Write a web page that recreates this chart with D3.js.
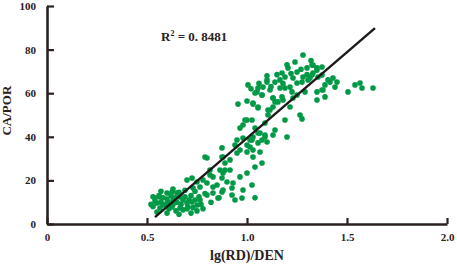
<!DOCTYPE html>
<html>
<head>
<meta charset="utf-8">
<script src="https://cdn.jsdelivr.net/npm/d3@7"></script>
<style>
  body { margin: 0; background: #fff; }
  svg { display: block; }
  .eixo text { font-family: "Liberation Serif", "Times New Roman", serif; font-weight: bold; font-size: 11px; fill: #2a2220; }
  .eixo path, .eixo line { stroke: #2a2220; }
  .titulo-eixo { font-family: "Liberation Serif", "Times New Roman", serif; font-weight: bold; fill: #2a2220; text-anchor: middle; }
</style>
</head>
<body>
<svg id="grafico"></svg>
<script>
// valores: lg(RD)/DEN (x) e CA/POR (y)
const pontosX = [
  0.54, 0.565, 0.6, 0.625, 0.65, 0.665, 0.55, 0.58, 0.605, 0.63, 0.68, 0.7, 0.725, 0.75, 0.705, 0.665, 0.625, 0.565,
  0.53, 0.54, 0.56, 0.57, 0.58, 0.59, 0.6, 0.61, 0.62, 0.63, 0.64, 0.645, 0.65, 0.66, 0.67, 0.68, 0.69, 0.7, 0.71,
  0.72, 0.73, 0.74, 0.75, 0.76, 0.77, 0.78, 0.55, 0.6, 0.66, 0.72, 0.57, 0.63, 0.69, 0.74, 0.79, 0.82, 0.86, 0.94,
  1.04, 0.52, 0.53,
  0.7, 0.725, 0.75, 0.765, 0.73, 0.78, 0.8, 0.815, 0.83, 0.85, 0.875, 0.875, 0.88, 0.89, 0.915, 0.89, 0.875, 0.9,
  0.925, 0.83, 0.8, 0.855, 0.765,
  0.79, 0.875, 0.915, 0.95, 0.965, 1.0, 1.015, 1.03, 1.075, 1.04, 1.0, 0.965, 0.865, 0.88, 0.815, 0.8, 0.83, 0.88,
  0.925, 0.975, 1.025, 0.98, 0.93,
  0.955, 1.0, 1.03, 1.055, 1.0, 0.98, 0.965, 1.05, 1.075, 1.13, 1.115, 1.105, 1.09, 1.055, 1.03, 1.015, 1.075, 0.95,
  0.94, 1.0, 1.09, 1.14,
  1.28, 1.24, 1.205, 1.25, 1.3, 1.325, 1.35, 1.375, 1.325, 1.28, 1.23, 1.19, 1.175, 1.165, 1.14, 1.1, 1.08, 1.055,
  1.04, 1.075, 1.115, 1.165, 1.19, 1.215, 1.25, 1.275, 1.305, 1.175, 1.13, 1.225, 1.25, 1.29, 1.35, 1.375, 1.35,
  1.39, 1.405, 1.23, 1.14,
  1.33, 1.35, 1.33, 1.355, 1.375, 1.315, 1.43, 1.45, 1.415, 1.44, 1.39, 1.38, 1.505, 1.54, 1.565, 1.575, 1.63,
  1.03, 1.055, 1.105, 1.13, 1.155, 1.18, 1.215, 1.19, 1.265, 1.275, 1.025, 1.04, 1.065, 1.09, 1.13, 1.055, 1.1,
  1.2, 1.025, 1.03, 1.065,
  1.005, 1.1, 1.02, 1.06, 1.1, 1.12, 1.15, 1.2, 1.22, 1.27, 1.3, 1.32, 1.18, 0.99, 0.98
];
const pontosY = [
  11.9, 12.4, 14.2, 14.7, 14.2, 12.4, 9.6, 8.7, 10.1, 11, 11, 9.6, 10.1, 8.7, 7.8, 7.3, 7.8, 7.3,
  8, 10.5, 13, 10, 12, 9, 11.5, 7, 13, 9, 12, 6, 10, 14.5, 9, 6.5, 12.5, 7, 11,
  13, 7.5, 11, 6, 12.5, 9, 7, 5.5, 5, 4.5, 5, 15, 16, 15.5, 15, 14, 10, 12, 11,
  12, 9, 12.5,
  20.2, 21.1, 19.3, 17, 16.5, 20.2, 30.3, 24.8, 21.6, 17.9, 14.7, 34.9, 30.7, 28, 24.8, 24.8, 21.1, 19.3,
  16.5, 14.2, 13.3, 11.9, 11,
  30.7, 30.7, 29.4, 32.6, 33.9, 33, 35.3, 30.7, 28, 26.1, 23.4, 21.6, 24.8, 23.4, 22.5, 18.8, 17, 15.6,
  13.3, 11.9, 17.9, 15.6, 18.8,
  55, 56.4, 55, 53.7, 47.7, 45.4, 44, 60.6, 59.2, 57.8, 52.3, 50, 46.3, 41.7, 39.9, 38.5, 38.5, 38.5,
  36.2, 36.2, 40.8, 43.1,
  77.5, 74.3, 71.6, 69.7, 71.6, 72.9, 70.6, 72, 68.3, 67.4, 67, 67.4, 69.3, 66.1, 65.1, 66.1, 62.8, 62.4,
  60.1, 59.2, 61.5, 62.4, 62.4, 62.8, 64.7, 65.1, 66.1, 58.3, 57.8, 60.6, 59.2, 60.6, 60.6, 61.5, 56.9,
  58.3, 66.1, 57.8, 56,
  72.9, 71.6, 69.3, 67.4, 68.3, 67, 67, 65.1, 65.1, 62.8, 63.8, 61.5, 60.6, 63.8, 64.7, 62.4, 62.4,
  55.5, 53.2, 52.3, 53.7, 56, 56.9, 53.7, 47.7, 50, 48.2, 47.7, 44, 41.7, 39.9, 40.8, 37.2, 37.6,
  39.9, 38.5, 33.9, 33,
  63.8, 65.1, 62, 64.5, 68, 63, 68.5, 73, 69, 71, 68.5, 75, 64.5, 47.7, 39.4
];

// reta de ajuste
const retaInclinacao = 78.8;
const retaIntercepto = -39.4;
const retaX = [0.54, 1.64];
const textoR2 = ['R', '2', ' = 0. 8481'];

// rótulos dos eixos
const ticksX = [0, 0.5, 1.0, 1.5, 2.0];
const ticksY = [0, 20, 40, 60, 80, 100];
const tituloX = 'lg(RD)/DEN';
const tituloY = 'CA/POR';

const largura = 457, altura = 266;
const margem = { esquerda: 47, direita: 10, superior: 6, inferior: 42 };
const larguraPlotagem = largura - margem.esquerda - margem.direita;
const alturaPlotagem = altura - margem.superior - margem.inferior;

const svg = d3.select('#grafico').attr('width', largura).attr('height', altura);
const plotagem = svg.append('g')
    .attr('transform', `translate(${margem.esquerda}, ${margem.superior})`);

const x = d3.scaleLinear().domain([0, 2]).range([0, larguraPlotagem]);
const y = d3.scaleLinear().domain([0, 100]).range([alturaPlotagem, 0]);

// pontos
const dados = pontosX.map((v, i) => ({ x: v, y: pontosY[i] }));
plotagem.selectAll('.ponto')
  .data(dados)
  .enter()
  .append('circle')
    .classed('ponto', true)
    .attr('cx', d => x(d.x))
    .attr('cy', d => y(d.y))
    .attr('r', 2.8)
    .attr('fill', '#009a46');

// reta de regressão
plotagem.append('line')
    .attr('x1', x(retaX[0]))
    .attr('y1', y(retaInclinacao * retaX[0] + retaIntercepto))
    .attr('x2', x(retaX[1]))
    .attr('y2', y(retaInclinacao * retaX[1] + retaIntercepto))
    .attr('stroke', '#1e1a18')
    .attr('stroke-width', 2.4);

// eixos
const eixoX = d3.axisBottom(x).tickValues(ticksX)
    .tickFormat(d => d === 0 ? '0' : d.toFixed(1))
    .tickSizeInner(-6).tickSizeOuter(0).tickPadding(9);
const gX = plotagem.append('g').classed('eixo', true)
    .attr('transform', `translate(0, ${alturaPlotagem})`)
    .call(eixoX);
gX.select('.domain').attr('stroke-width', 2.6);
gX.selectAll('.tick line').attr('stroke-width', 2.2);

const eixoY = d3.axisLeft(y).tickValues(ticksY)
    .tickSizeInner(-7).tickSizeOuter(0).tickPadding(11);
const gY = plotagem.append('g').classed('eixo', true).call(eixoY);
gY.select('.domain').attr('stroke-width', 2.6);
gY.selectAll('.tick line').attr('stroke-width', 2.2);

// títulos dos eixos
plotagem.append('text')
    .classed('titulo-eixo', true)
    .attr('x', x(1.0))
    .attr('y', alturaPlotagem + 36)
    .style('font-size', '14px')
    .text(tituloX);

plotagem.append('text')
    .classed('titulo-eixo', true)
    .attr('transform', `translate(-36, ${y(52)}) rotate(-90)`)
    .style('font-size', '13px')
    .text(tituloY);

// texto do R²
const r2 = plotagem.append('text')
    .attr('x', x(0.57))
    .attr('y', y(84))
    .style('font-family', '"Liberation Serif", "Times New Roman", serif')
    .style('font-weight', 'bold')
    .style('font-size', '13px')
    .attr('fill', '#2a2220');
r2.append('tspan').text(textoR2[0]);
r2.append('tspan').attr('dy', -5).style('font-size', '8px').text(textoR2[1]);
r2.append('tspan').attr('dy', 5).text(textoR2[2]);
</script>
</body>
</html>
